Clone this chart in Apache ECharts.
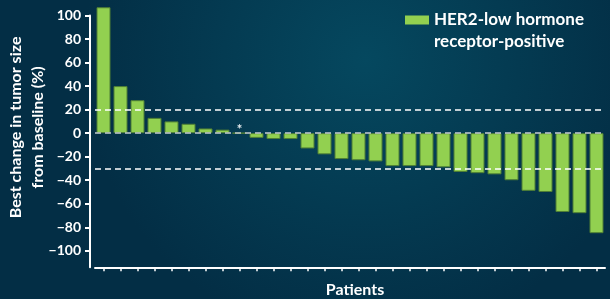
<!DOCTYPE html>
<html>
<head>
<meta charset="utf-8">
<script src="https://cdn.jsdelivr.net/npm/echarts@6/dist/echarts.min.js"></script>
<style>
  html, body { margin: 0; padding: 0; background: #033a52; }
  #main { width: 610px; height: 299px; }
</style>
</head>
<body>
<div id="main"></div>
<script>
// best change per patient, sorted (the * patient had no change)
var patients = [];
for (var i = 1; i <= 30; i++) patients.push('P' + i);
var bestChange = [107, 40, 28, 13, 10, 8, 4, 3, 0, -4, -5, -5, -13, -18, -22, -23, -24,
  -28, -28, -28, -29, -33, -34, -35, -40, -49, -50, -67, -68, -85];
var markedPatient = 8;
var yTicks = [-100, -80, -60, -40, -20, 0, 20, 40, 60, 80, 100];
var refLines = [20, 0, -30];
var seriesName = 'HER2-low hormone receptor-positive';

var myChart = echarts.init(document.getElementById('main'));

var font = 'Lato, "Open Sans", sans-serif';

var option = {
  backgroundColor: new echarts.graphic.RadialGradient(0.6, 0.2, 0.95, [
    { offset: 0, color: '#05485f' },
    { offset: 1, color: '#032e45' }
  ]),
  animation: false,
  textStyle: { fontFamily: font },
  legend: {
    data: [seriesName],
    left: 405,
    top: -13,
    padding: 0,
    icon: 'rect',
    itemWidth: 24,
    itemHeight: 9,
    itemGap: 8,
    selectedMode: false,
    itemStyle: { borderWidth: 0 },
    // blank first line keeps the icon level with the first text line
    formatter: function (n) { return ' \nHER2-low hormone\nreceptor-positive'; },
    textStyle: {
      color: '#fff', fontSize: 17, fontWeight: 'bold', fontFamily: font,
      lineHeight: 22
    }
  },
  grid: { left: 95, right: 5, top: 15.5, bottom: 31.7, outerBoundsMode: 'none' },
  xAxis: {
    type: 'category',
    data: patients,
    name: 'Patients',
    nameLocation: 'middle',
    nameGap: 15,
    nameTextStyle: { color: '#fff', fontSize: 16, fontWeight: 'bold', padding: [0, 0, 0, 10] },
    axisLine: { onZero: false, lineStyle: { color: '#fff', width: 2 } },
    axisTick: { show: true, alignWithLabel: true, interval: 0, length: 4, lineStyle: { color: '#fff', width: 1.5 } },
    axisLabel: { show: false, interval: 0 }
  },
  yAxis: {
    type: 'value',
    min: -114,
    max: 100,
    offset: 5,
    name: 'Best change in tumor size\nfrom baseline (%)',
    nameLocation: 'middle',
    nameGap: 41,
    nameMoveOverlap: false,
    nameRotate: 90,
    nameTextStyle: {
      color: '#fff', fontSize: 16, fontWeight: 'bold', lineHeight: 22,
      padding: [0, 0, 0, 28]
    },
    splitLine: { show: false },
    axisLine: { show: true, lineStyle: { color: '#fff', width: 2 } },
    axisTick: { show: true, customValues: yTicks, length: 5, lineStyle: { color: '#fff', width: 2 } },
    axisLabel: {
      customValues: yTicks,
      color: '#fff', fontSize: 14, fontWeight: 'bold', margin: 9,
      formatter: function (v) { return String(v).replace('-', '\u2212'); }
    }
  },
  series: [{
    name: seriesName,
    type: 'bar',
    barWidth: 14,
    clip: false,
    itemStyle: { color: '#92d050', borderColor: '#4f7f35', borderWidth: 1 },
    data: bestChange.map(function (v, i) {
      if (i !== markedPatient) return v;
      return {
        value: v,
        label: { show: true, formatter: '*', position: 'top', distance: 0, offset: [0, 4], color: '#e8eef0', fontSize: 13, fontWeight: 'bold' }
      };
    }),
    markLine: {
      silent: true,
      symbol: 'none',
      label: { show: false },
      data: refLines.map(function (v) {
        return {
          yAxis: v,
          lineStyle: { type: [6, 4], width: 1.5, color: v === 0 ? '#c4ccd0' : '#ffffff' }
        };
      })
    }
  }]
};

myChart.setOption(option);
</script>
</body>
</html>
